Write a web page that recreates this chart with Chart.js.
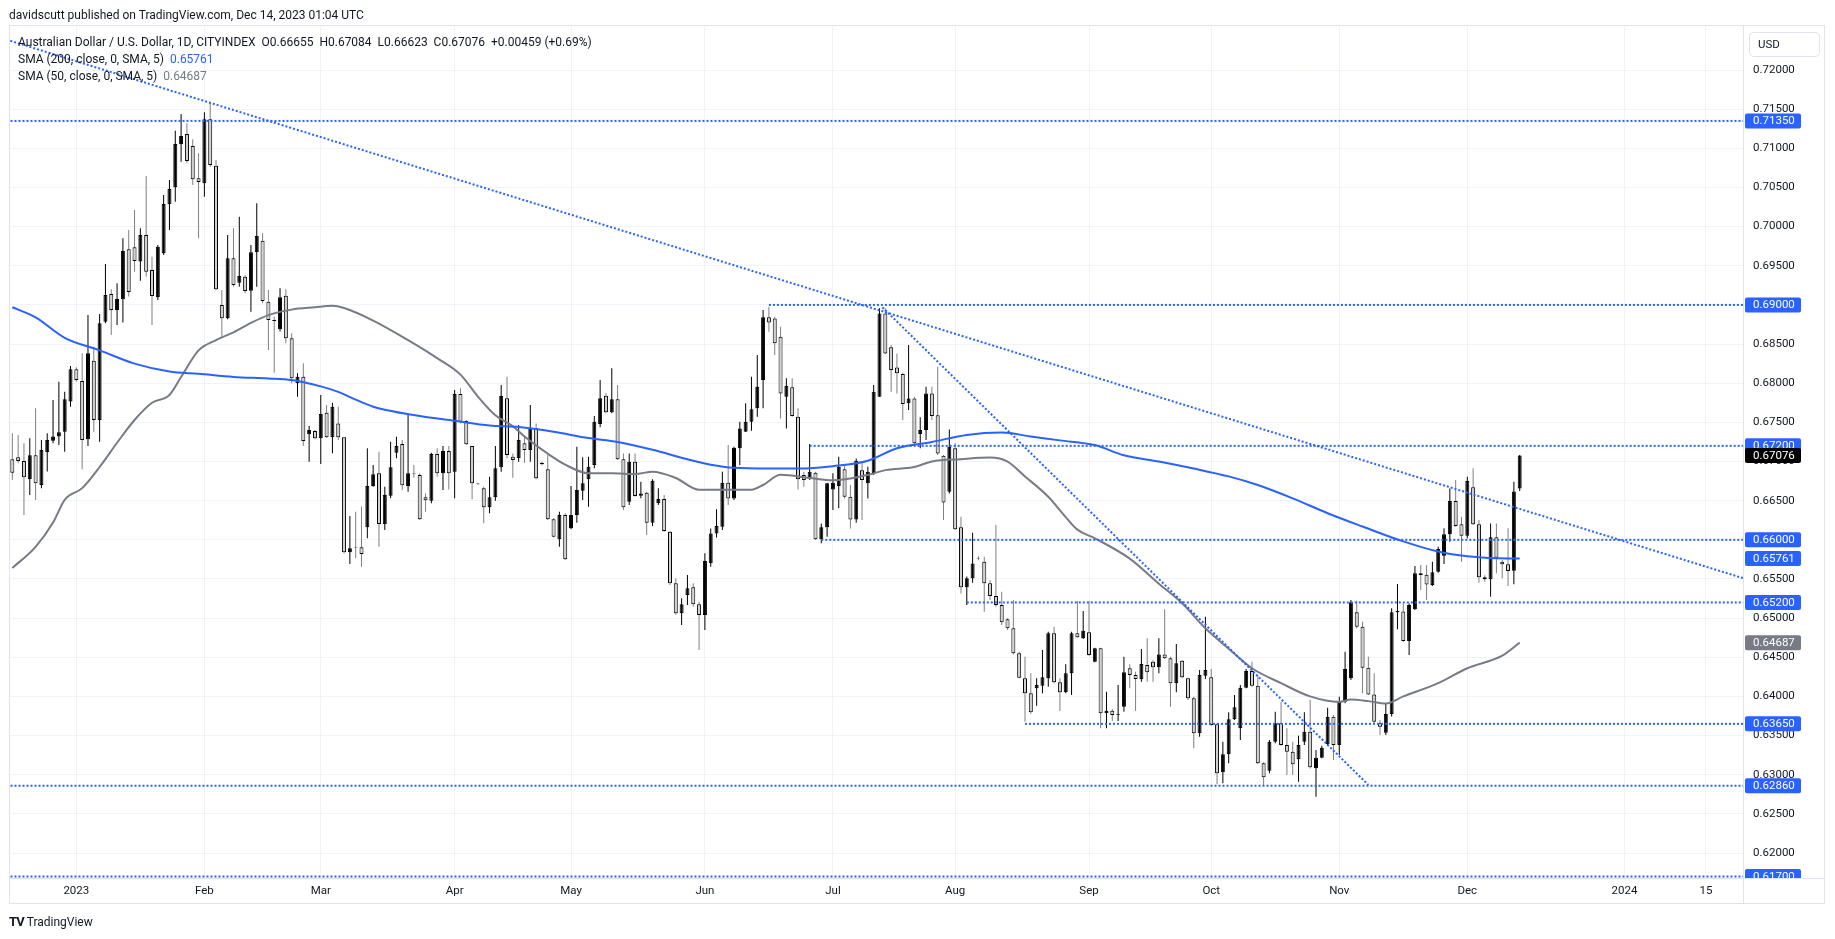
<!DOCTYPE html>
<html>
<head>
<meta charset="utf-8">
<title>AUD/USD 1D</title>
<script src="https://cdn.jsdelivr.net/npm/chart.js@4.4.1/dist/chart.umd.min.js"></script>
<style>
  html, body { margin: 0; padding: 0; background: #fff; }
  #wrap { position: relative; width: 1835px; height: 939px; overflow: hidden;
          font-family: Roboto, "Liberation Sans", sans-serif; color: #131722; }
  #chart { position: absolute; left: 0; top: 0; }
  .txt { position: absolute; font-size: 12px; line-height: 14px; white-space: pre; }
  .blue { color: #2962ff; }
  .grey { color: #787b86; }
  .logo { font-weight: bold; font-size: 13px; letter-spacing: -1px; margin-right: 3px; }
</style>
</head>
<body>
<div id="wrap">
  <canvas id="chart" width="1835" height="939"></canvas>
  <div class="txt" style="left:9px;top:8px">davidscutt published on TradingView.com, Dec 14, 2023 01:04 UTC</div>
  <div class="txt" id="ohlc" style="left:18px;top:35px"></div>
  <div class="txt" style="left:18px;top:52px">SMA (200, close, 0, SMA, 5)  <span class="blue" id="v200"></span></div>
  <div class="txt" style="left:18px;top:69px">SMA (50, close, 0, SMA, 5)  <span class="grey" id="v50"></span></div>
  <div class="txt" style="left:9px;top:915px"><span class="logo">TV</span>TradingView</div>
</div>
<script>
// one bar per weekday: bar 0 = 16 Dec 2022, last bar = 14 Dec 2023
const opens = [
  .67028,.67054,.67007,.66773,.67079,.667,.67118,.67266,.67318,.67381,
  .67765,.68178,.68029,.67284,.68288,.6753,.68786,.6914,.68935,.69072,
  .6971,.69736,.69553,.69893,.69446,.69097,.69659,.70285,.70502,.71051,
  .71183,.7103,.70617,.70553,.7137,.70779,.68999,.68829,.69595,.69284,
  .69361,.69182,.69672,.69821,.69042,.68808,.68688,.69118,.68573,.67999,
  .68084,.67347,.6739,.67296,.67624,.67309,.67487,.67309,.6584,.65904,
  .65904,.66159,.66687,.66849,.66198,.66564,.67113,.67224,.66687,.66849,
  .66828,.66543,.665,.67096,.66849,.67134,.6687,.67862,.67518,.67198,
  .66721,.66658,.66415,.66543,.66926,.67807,.67062,.67041,.67232,.67147,
  .67424,.66985,.669,.66262,.66006,.66317,.66147,.66317,.66628,.66772,
  .66956,.67479,.67841,.67628,.67794,.67028,.66487,.66998,.66564,.66602,
  .66219,.66466,.66521,.66104,.65444,.65061,.65295,.65393,.65176,.6504,
  .657,.66082,.66168,.66729,.66529,.67168,.67381,.67508,.67679,.68041,
  .68841,.68828,.68594,.67828,.67947,.67573,.66827,.66785,.66857,.66006,
  .66159,.66644,.66687,.669,.66551,.66261,.6689,.66721,.66849,.67828,
  .68892,.68458,.68202,.68118,.67743,.67806,.67351,.67402,.6787,.6759,
  .67075,.66614,.67168,.66159,.65393,.65508,.65763,.6572,.65444,.65282,
  .65167,.64985,.6487,.6455,.64231,.64039,.64103,.64137,.64231,.64806,
  .6418,.64052,.64295,.64806,.64742,.64818,.64444,.64614,.63784,.63818,
  .63763,.63869,.64359,.64274,.64219,.64401,.64444,.64371,.64537,.64486,
  .64167,.64457,.64231,.63976,.63529,.64265,.64244,.63644,.6303,.6326,
  .63707,.63592,.64112,.64325,.64137,.63145,.63052,.63422,.63656,.6338,
  .63294,.63197,.63422,.6355,.63082,.63218,.63388,.63741,.6338,.63933,
  .64231,.65074,.6489,.64367,.64026,.63664,.63537,.63775,.65074,.65083,
  .64708,.65112,.65572,.65555,.65423,.65593,.65797,.6607,.66496,.66198,
  .66053,.6667,.66198,.65521,.65495,.66032,.65721,.65687,.65606,.66655
];
const highs = [
  .6736,.67339,.67232,.67296,.67679,.67275,.6736,.67786,.6802,.67892,
  .6822,.68203,.68382,.68871,.68467,.68884,.69523,.69199,.69276,.69851,
  .69957,.70212,.69978,.70647,.69616,.69765,.70404,.70596,.71226,.71438,
  .71319,.71115,.70936,.7146,.71583,.70851,.69191,.69893,.69978,.70127,
  .69382,.69765,.70298,.69914,.69191,.6885,.69212,.69199,.68637,.68126,
  .68254,.67454,.67403,.6785,.67722,.67752,.677,.67309,.66304,.6636,
  .66423,.67168,.66956,.67126,.66678,.67254,.67317,.67275,.67594,.66956,
  .66849,.66594,.67113,.67168,.67198,.67198,.67913,.67935,.6753,.67198,
  .66721,.66678,.66807,.67199,.67977,.68084,.67104,.67466,.67317,.67722,
  .67487,.66998,.67083,.66274,.6636,.66338,.66687,.67189,.67053,.67062,
  .67581,.68041,.67871,.6819,.67977,.67104,.67104,.67104,.66743,.66615,
  .66772,.66658,.66572,.66113,.65508,.65253,.65551,.65444,.6521,.65827,
  .66146,.66389,.6687,.6721,.67189,.67508,.67743,.68083,.6836,.68935,
  .68977,.6885,.68722,.68062,.68062,.67679,.6687,.67223,.6687,.6621,
  .66729,.66849,.67061,.66955,.667,.6704,.66976,.66934,.67977,.68956,
  .68956,.68488,.68381,.68135,.68488,.67828,.67564,.67955,.67955,.68211,
  .67083,.6741,.67232,.66295,.6553,.66091,.6579,.65784,.65486,.66189,
  .65338,.64997,.65231,.64571,.64508,.64295,.64231,.64593,.64827,.64891,
  .64231,.6441,.64827,.65219,.65091,.65219,.64622,.64622,.64061,.63839,
  .64146,.64508,.6441,.64316,.64606,.64742,.64465,.64742,.65112,.64508,
  .64669,.64465,.6424,.63997,.64337,.65019,.6435,.63656,.63422,.63797,
  .64018,.64146,.6435,.64444,.64274,.63158,.63443,.63805,.63933,.63592,
  .63422,.63499,.63797,.63954,.63316,.63371,.63856,.63763,.63997,.64572,
  .65231,.65223,.64955,.64507,.64295,.63699,.63911,.65125,.65436,.65189,
  .65189,.65666,.65678,.65678,.65721,.65913,.66147,.66657,.66764,.66296,
  .66806,.66913,.66253,.65548,.6621,.6621,.65742,.66147,.66743,.67084
];
const lows = [
  .66764,.66977,.66317,.66573,.66509,.66658,.66871,.67232,.67211,.67126,
  .67701,.6802,.669,.67198,.67381,.67254,.68765,.68616,.68744,.68774,
  .69106,.69425,.6931,.69361,.68744,.69063,.69638,.69957,.70319,.7083,
  .70808,.70532,.69851,.70383,.70766,.69191,.68595,.68816,.69233,.69233,
  .69148,.68914,.69233,.6902,.68424,.68135,.68659,.6851,.67999,.67828,
  .67198,.66998,.67284,.66968,.67296,.67105,.67275,.65827,.65691,.65764,
  .65657,.66019,.66678,.65913,.66125,.6653,.67041,.66636,.66615,.66793,
  .66253,.6636,.66466,.66807,.66636,.66644,.6653,.67487,.67211,.66517,
  .667,.66211,.66338,.665,.6687,.67041,.66793,.66998,.66985,.66998,
  .66772,.66951,.66253,.66031,.65913,.65742,.66134,.66219,.66508,.66423,
  .66913,.67437,.67615,.67615,.67019,.66381,.66445,.66551,.6653,.66062,
  .66177,.66445,.66104,.65423,.6504,.64912,.65167,.65146,.64593,.64848,
  .65657,.66031,.66125,.66445,.66508,.66955,.67381,.67394,.67572,.67679,
  .68658,.6836,.67551,.67423,.67573,.66644,.66678,.66763,.65997,.65955,
  .6604,.6638,.66402,.66529,.66146,.66219,.66253,.66529,.66827,.67828,
  .68373,.67892,.6787,.6753,.67657,.67223,.67168,.67274,.6753,.67083,
  .66253,.66593,.66125,.65316,.65167,.65452,.6574,.6508,.65231,.65146,
  .64912,.64848,.64537,.64231,.63677,.6378,.63882,.64039,.64125,.64167,
  .63814,.64039,.64018,.6475,.64733,.6452,.64435,.63592,.63592,.63686,
  .63686,.63805,.64103,.63814,.64188,.64188,.64188,.64295,.64478,.63869,
  .64052,.64231,.63954,.63337,.63486,.64223,.63626,.62877,.6289,.63145,
  .63699,.63443,.64103,.64125,.63137,.62868,.63018,.63401,.63371,.62997,
  .62997,.62911,.6338,.63081,.6272,.63209,.6338,.63188,.63252,.63912,
  .64209,.64869,.64039,.64018,.63656,.63507,.63507,.63742,.64857,.64699,
  .64529,.65104,.65359,.65232,.6541,.65581,.65691,.65976,.66168,.65721,
  .66019,.66189,.65453,.65466,.65274,.65572,.65508,.6541,.65432,.66623
];
const closes = [
  .66858,.67007,.66798,.67079,.66722,.67147,.67275,.67318,.67373,.67794,
  .68178,.68041,.67275,.68382,.6753,.68765,.69127,.68935,.69076,.69689,
  .69165,.69561,.69893,.69425,.69114,.69744,.70289,.70481,.71055,.71158,
  .70838,.70604,.7057,.7137,.70787,.69199,.68829,.69595,.69255,.6937,
  .69178,.69672,.6988,.6905,.68808,.68795,.69097,.68573,.68063,.68084,
  .67262,.67403,.67296,.67607,.67309,.67701,.67309,.6584,.65891,.65898,
  .65819,.66687,.66836,.66202,.66572,.66926,.67198,.66696,.66849,.66843,
  .66262,.66504,.67096,.66849,.67134,.66849,.67862,.67509,.6722,.66721,
  .66715,.66415,.66543,.66913,.67837,.67083,.67019,.67275,.67147,.67432,
  .66785,.66964,.66262,.6604,.66317,.65751,.66317,.66636,.66721,.66934,
  .67509,.67807,.67628,.67794,.67028,.66415,.66998,.6656,.66593,.66219,
  .66755,.66521,.66113,.65444,.65061,.65176,.6538,.65176,.6504,.65729,
  .66082,.66176,.66729,.66529,.67176,.67423,.67508,.67666,.67955,.68841,
  .68777,.68509,.6787,.67968,.67581,.66772,.66763,.6687,.66006,.66159,
  .66721,.66729,.66934,.66551,.66261,.6701,.66763,.6687,.67892,.68892,
  .68381,.68168,.68126,.67734,.67806,.67232,.67402,.6787,.67581,.67104,
  .66478,.67189,.66134,.65393,.65508,.65699,.65755,.65444,.65282,.65167,
  .64946,.6487,.6455,.6424,.64039,.63797,.64146,.64244,.64806,.6418,
  .64052,.64295,.64806,.64755,.6484,.64529,.64614,.63784,.63818,.63763,
  .63771,.64308,.64274,.64223,.64414,.64308,.64371,.64537,.64486,.64167,
  .64423,.64244,.63976,.63529,.64274,.64337,.63635,.63018,.6326,.63707,
  .63861,.64112,.64325,.64137,.63145,.62967,.63422,.63656,.6338,.63294,
  .63133,.6338,.6355,.63094,.63218,.63346,.63741,.6338,.63933,.6435,
  .65202,.6489,.64367,.64026,.63677,.63614,.63775,.65074,.65091,.64708,
  .65168,.65572,.6555,.65431,.65585,.65883,.6607,.66496,.66177,.66053,
  .66751,.66198,.65521,.65495,.66032,.65772,.65687,.65602,.66617,.67076
];

// moving averages at sample bars
const sma200Idx = [0,4,9,15,21,27,32,38,44,48,53,56,59,62,64,70,76,82,87,93,99,104,110,116,120,124,130,135,141,147,152,158,164,170,175,180,186,191,197,203,209,214,220,226,232,239,245,250,257,259];
const sma200Val = [.6897,.6884,.6858,.6842,.6825,.6815,.6812,.6808,.6806,.6804,.6796,.6789,.6779,.6770,.6766,.6758,.6752,.6746,.6744,.6738,.6730,.6725,.6715,.6703,.6696,.6692,.6691,.6691,.6694,.6701,.6717,.6725,.6734,.6737,.6732,.6727,.6721,.6708,.6700,.6691,.6681,.6670,.6653,.6634,.6617,.6598,.6585,.6579,.6576,.65761];
const sma50Idx = [0,4,7,9,12,15,18,21,24,27,29,32,35,38,41,44,48,52,55,57,62,68,73,77,80,83,86,88,92,95,99,103,107,110,114,118,120,124,127,129,132,137,141,147,150,155,158,163,168,171,174,178,181,183,186,192,197,201,205,209,213,218,223,228,230,233,236,239,245,250,256,259];
const sma50Val = [.6564,.6591,.6622,.6651,.6666,.6693,.6724,.6753,.6775,.6785,.6808,.6842,.6855,.6865,.6877,.6887,.6894,.6897,.6899,.6896,.6880,.6855,.6832,.6811,.6783,.6759,.6745,.6732,.6710,.6696,.6685,.6685,.6684,.6687,.6679,.6664,.6664,.6664,.6664,.6670,.6683,.6679,.6676,.6683,.6689,.6693,.6700,.6703,.6705,.6700,.6681,.6655,.6629,.6613,.6602,.6576,.6544,.6519,.6487,.6461,.6436,.6417,.6400,.6393,.6396,.6394,.6391,.6400,.6417,.6436,.6452,.64687];

// horizontal levels and the bar each one starts from
const levels = [0.7135, 0.69, 0.672, 0.66, 0.652, 0.6365, 0.6286, 0.617];
const levelFrom = [-1, 130, 137, 139, 164, 174, -1, -1];

// two falling trendlines (bar, price)
const trendAIdx = [-1, 297.4];
const trendAVal = [0.72388, 0.6551];
const trendBIdx = [149.5, 233];
const trendBVal = [0.6897, 0.6287];

// time axis: bar positions of the labels (future part counts calendar days)
const xTickIdx = [11, 33, 53, 76, 96, 119, 141, 162, 185, 206, 228, 250, 277, 291];
const xTickLabels = ['2023', 'Feb', 'Mar', 'Apr', 'May', 'Jun', 'Jul', 'Aug', 'Sep', 'Oct', 'Nov', 'Dec', '2024', '15'];
const yTicks = [0.620, 0.625, 0.630, 0.635, 0.640, 0.645, 0.650, 0.655, 0.660, 0.665, 0.670,
                0.675, 0.680, 0.685, 0.690, 0.695, 0.700, 0.705, 0.710, 0.715, 0.720];

const BLUE = '#2962ff';
const GREY = '#787b86';
const FONT = 'Roboto, "Liberation Sans", sans-serif';

const n = closes.length;
const xMax = 297.37;
const isUp = closes.map((c, i) => c >= opens[i]);

// header legend
const chg = closes[n - 1] - closes[n - 2];
document.getElementById('ohlc').textContent =
  'Australian Dollar / U.S. Dollar, 1D, CITYINDEX  O' + opens[n - 1].toFixed(5) +
  '  H' + highs[n - 1].toFixed(5) + '  L' + lows[n - 1].toFixed(5) +
  '  C' + closes[n - 1].toFixed(5) + '  +' + chg.toFixed(5) +
  ' (+' + (chg / closes[n - 2] * 100).toFixed(2) + '%)';
document.getElementById('v200').textContent = sma200Val[sma200Val.length - 1].toFixed(5);
document.getElementById('v50').textContent = sma50Val[sma50Val.length - 1].toFixed(5);

function pts(xs, ys) {
  return xs.map((x, i) => ({ x: x, y: ys[i] }));
}

const dotted = (data) => ({
  type: 'line', data: data, borderColor: BLUE, borderWidth: 2, borderDash: [2, 2],
  pointRadius: 0, fill: false, order: 1
});

// price-scale badges, panel frame, USD box
const framePlugin = {
  id: 'frame',
  beforeDraw(chart) {
    const c = chart.ctx;
    c.save();
    c.fillStyle = '#fff';
    c.fillRect(0, 0, chart.width, chart.height);
    c.restore();
  },
  afterDraw(chart) {
    const c = chart.ctx, a = chart.chartArea, y = chart.scales.y;
    c.save();
    c.strokeStyle = '#e0e3eb';
    c.lineWidth = 1;
    c.strokeRect(a.left + 0.5, a.top + 0.5, 1824 - a.left, 903 - a.top);
    c.beginPath();
    c.moveTo(a.right + 0.5, a.top); c.lineTo(a.right + 0.5, 903);
    c.moveTo(a.left, a.bottom + 0.5); c.lineTo(1824, a.bottom + 0.5);
    c.stroke();

    // USD box
    c.fillStyle = '#fff';
    c.beginPath();
    c.roundRect(1749.5, 32.5, 70, 24, 4);
    c.fill(); c.stroke();
    c.fillStyle = '#131722';
    c.font = '11.5px ' + FONT;
    c.textBaseline = 'middle';
    c.fillText('USD', 1758, 45);

    c.beginPath();
    c.rect(a.right, a.top, 92, a.bottom - a.top);
    c.clip();
    const badge = (v, bg) => {
      const py = y.getPixelForValue(v);
      c.fillStyle = bg;
      c.beginPath();
      c.roundRect(a.right + 2, py - 7.5, 56, 15, 2);
      c.fill();
      c.fillStyle = '#fff';
      c.fillText(v.toFixed(5), a.right + 10, py + 0.5);
    };
    levels.forEach(v => badge(v, BLUE));
    badge(sma200Val[sma200Val.length - 1], BLUE);
    badge(sma50Val[sma50Val.length - 1], GREY);
    badge(closes[n - 1], '#000');
    c.restore();
  }
};

Chart.defaults.font.family = FONT;
Chart.defaults.font.size = 11.5;
Chart.defaults.color = '#131722';

new Chart(document.getElementById('chart'), {
  type: 'bar',
  data: {
    datasets: [
      {
        type: 'bar', order: 5, grouped: false,
        data: closes.map((c, i) => ({ x: i, y: [lows[i], highs[i]] })),
        backgroundColor: isUp.map(u => u ? '#000000' : '#7f7f7f'),
        borderWidth: 0, barThickness: 1, inflateAmount: 0
      },
      {
        type: 'bar', order: 4, grouped: false,
        data: closes.map((c, i) => ({ x: i, y: [opens[i], c] })),
        backgroundColor: isUp.map(u => u ? '#000000' : '#d1d1d1'),
        borderColor: '#000000', borderWidth: 1, borderSkipped: false,
        barThickness: 4, inflateAmount: 0
      },
      {
        type: 'line', order: 3, data: pts(sma200Idx, sma200Val),
        borderColor: BLUE, borderWidth: 2, pointRadius: 0, cubicInterpolationMode: 'monotone'
      },
      {
        type: 'line', order: 3, data: pts(sma50Idx, sma50Val),
        borderColor: GREY, borderWidth: 2, pointRadius: 0, cubicInterpolationMode: 'monotone'
      },
      ...levels.map((v, k) => dotted([{ x: levelFrom[k], y: v }, { x: xMax, y: v }])),
      dotted(pts(trendAIdx, trendAVal)),
      dotted(pts(trendBIdx, trendBVal))
    ]
  },
  options: {
    responsive: false,
    animation: false,
    events: [],
    layout: { padding: { left: 9, top: 25, right: 0, bottom: 0 } },
    plugins: { legend: { display: false }, tooltip: { enabled: false } },
    scales: {
      x: {
        type: 'linear', min: -0.57, max: xMax, offset: false,
        afterBuildTicks: ax => { ax.ticks = xTickIdx.map(v => ({ value: v })); },
        afterFit: ax => { ax.height = 61; },
        ticks: { autoSkip: false, maxRotation: 0, padding: 6,
                 callback: (v, i) => xTickLabels[i] },
        grid: { color: '#f0f3fa', drawTicks: false, offset: false },
        border: { display: false }
      },
      y: {
        position: 'right', min: 0.61681, max: 0.72575,
        afterBuildTicks: ax => { ax.ticks = yTicks.map(v => ({ value: v })); },
        afterFit: ax => { ax.width = 92; },
        ticks: { autoSkip: false, padding: 10, callback: v => v.toFixed(5) },
        grid: { color: '#f0f3fa', drawTicks: false },
        border: { display: false }
      }
    }
  },
  plugins: [framePlugin]
});
</script>
</body>
</html>
